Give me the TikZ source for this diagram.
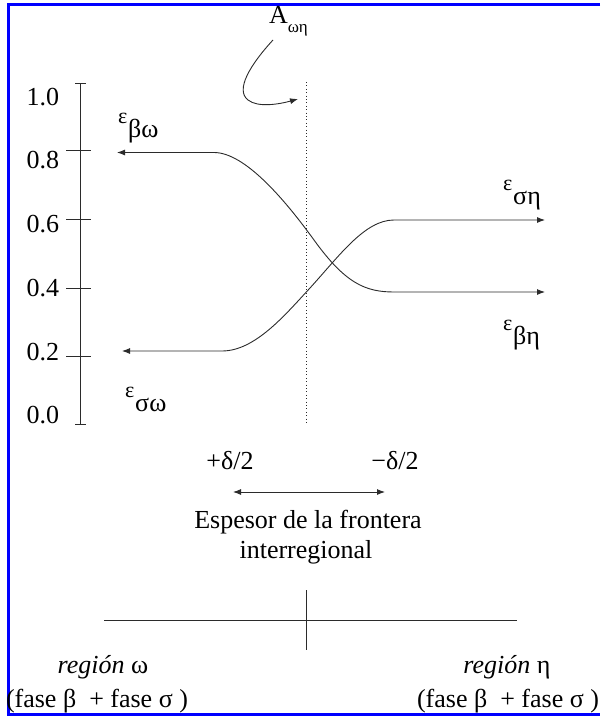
\documentclass[tikz,border=0pt]{standalone}
\usepackage{fontspec}
\setmainfont{Liberation Serif}
\usetikzlibrary{arrows.meta}
\definecolor{frameblue}{HTML}{0000FF}
\definecolor{ink}{HTML}{2B2B2B}
\newcommand{\epsub}[1]{\raisebox{14pt}{\fontsize{22}{24}\selectfont ε}\kern1pt#1}
\newcommand{\asub}[1]{A\raisebox{-9pt}{\fontsize{17}{20}\selectfont #1}}

\begin{document}
\begin{tikzpicture}[x=1pt,y=-1pt,font=\fontsize{26}{30}\selectfont,
  txt/.style={inner sep=0pt,outer sep=0pt},
  curve/.style={ink,line width=0.9pt},
  tip/.style={-{Latex[length=8pt,width=6pt]}},
  twotip/.style={{Latex[length=8pt,width=6pt]}-{Latex[length=8pt,width=6pt]}}]
  \useasboundingbox (0,0) rectangle (600,717);
  \draw[frameblue,line width=3pt] (600,4.5)--(8.5,4.5)--(8.5,714.5)--(600,714.5);
  % scale
  \draw[curve] (80,83)--(80,424);
  \draw[curve] (75,83)--(86,83);
  \draw[curve] (75,424)--(86,424);
  \foreach \ty in {150,219,288,356} \draw[curve] (66,\ty)--(91,\ty);
  \foreach \ly/\lb [count=\i] in {105/1.0,168/0.8,232/0.6,296/0.4,360/0.2,423/0.0}
    \node[txt,anchor=base east] (val\i) at (59,\ly) {\lb};
  % interface A_wn
  \draw[ink,line width=0.8pt,dash pattern=on 0.8pt off 2.6pt] (306,82)--(306,423);
  \node[txt,anchor=base west] (aon) at (269,24) {\asub{ωη}};
  \coordinate (aonfrom) at (273,40);
  \coordinate (aonto) at (298,99);
  \draw[curve,tip] (aonfrom) .. controls (250,65) and (235,90) .. (248,100)
    .. controls (258,108) and (280,104) .. (aonto);
  % beta phase
  \coordinate (bw) at (117,152.5);
  \coordinate (bn) at (545,292);
  \draw[curve,twotip] (bw) -- (214,152.5) .. controls (245,152.5) and (285,200) .. (314,240)
    .. controls (345,283) and (365,292) .. (394,292) -- (bn);
  % sigma phase
  \coordinate (sw) at (122,351);
  \coordinate (sn) at (545,220);
  \draw[curve,twotip] (sw) -- (222,351) .. controls (255,351) and (285,315) .. (310,288)
    .. controls (340,255) and (365,220) .. (394,220) -- (sn);
  \node[txt,anchor=base west] (ebw) at (118,137) {\epsub{βω}};
  \node[txt,anchor=base west] (esn) at (503,204) {\epsub{ση}};
  \node[txt,anchor=base west] (ebn) at (503,344) {\epsub{βη}};
  \node[txt,anchor=base west] (esw) at (125,411) {\epsub{σω}};
  % thickness
  \node[txt,anchor=base] (dplus) at (230,469) {+δ/2};
  \node[txt,anchor=base] (dminus) at (395,469) {−δ/2};
  \coordinate (thl) at (233,492);
  \coordinate (thr) at (385,492);
  \draw[curve,twotip] (thl) -- (thr);
  \node[txt,anchor=base] (esp) at (308,528) {Espesor de la frontera};
  \node[txt,anchor=base] (inter) at (306,558) {interregional};
  % regions
  \draw[curve] (104,620)--(517,620);
  \draw[curve] (306,590)--(306,650);
  \node[txt,anchor=base] (rw) at (103,673) {\textit{región} ω};
  \node[txt,anchor=base west] (fw) at (6,707) {(fase β\ \ + fase σ )};
  \node[txt,anchor=base] (rn) at (507,673) {\textit{región} η};
  \node[txt,anchor=base east] (fn) at (599,707) {(fase β\ \ + fase σ )};
\end{tikzpicture}
\end{document}
